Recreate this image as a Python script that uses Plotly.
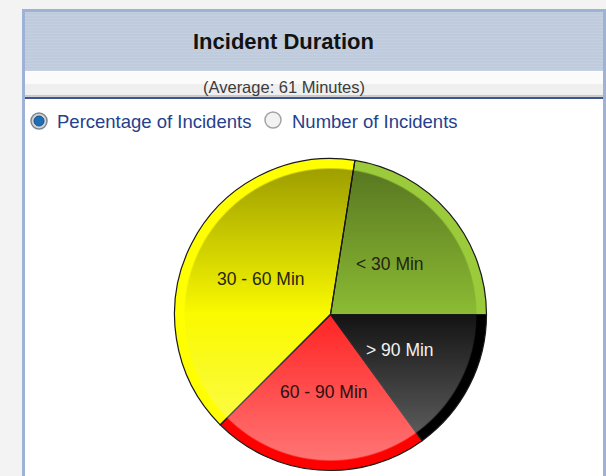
import base64
import math
import struct
import zlib

import plotly.graph_objects as go

# ---- data ----
categories = ["< 30 Min", "> 90 Min", "60 - 90 Min", "30 - 60 Min"]
percent_values = [22.5, 15.0, 22.5, 40.0]
title_text = "Incident Duration"
subtitle_text = "(Average: 61 Minutes)"
option_labels = ["Percentage of Incidents", "Number of Incidents"]

# ---- styles ----
rim_colors = ["#9bcb3a", "#000000", "#ff0000", "#ffff00"]
fill_colors = ["#8cbc34", "#141414", "#ff2424", "#fafa00"]
label_colors = ["#24240f", "#f2f2f2", "#2a1010", "#26260a"]
FONT = "Liberation Sans, Arial, sans-serif"
START_ANGLE = 9

W, H = 606, 476


def px(x):
    return x / W


def py(y):
    return 1 - y / H


cx, cy, R, r_in = 330.5, 314.5, 156, 146


def gloss_png(radius, strength=0.37):
    """Vertical shading overlay (dark top, light bottom) clipped to a circle."""
    size = radius * 2
    rows = []
    for j in range(size):
        row = bytearray([0])
        yy = j + 0.5 - radius
        t = yy / radius
        if t < 0:
            col, a = 0, -t * strength
        else:
            col, a = 255, t * strength
        for i in range(size):
            xx = i + 0.5 - radius
            d = math.hypot(xx, yy)
            cov = max(0.0, min(1.0, radius - d + 0.5))
            row += bytes([col, col, col, int(round(255 * a * cov))])
        rows.append(bytes(row))
    raw = b"".join(rows)

    def chunk(tag, data):
        c = struct.pack(">I", len(data)) + tag + data
        return c + struct.pack(">I", zlib.crc32(tag + data) & 0xFFFFFFFF)

    png = b"\x89PNG\r\n\x1a\n"
    png += chunk(b"IHDR", struct.pack(">IIBBBBB", size, size, 8, 6, 0, 0, 0))
    png += chunk(b"IDAT", zlib.compress(raw, 9))
    png += chunk(b"IEND", b"")
    return "data:image/png;base64," + base64.b64encode(png).decode()


outer_domain = dict(x=[px(cx - R), px(cx + R)], y=[py(cy + R), py(cy - R)])
inner_domain = dict(x=[px(cx - r_in), px(cx + r_in)], y=[py(cy + r_in), py(cy - r_in)])

fig = go.Figure()
# outer rim
fig.add_trace(go.Pie(
    labels=categories, values=percent_values, sort=False,
    direction="clockwise", rotation=START_ANGLE,
    marker=dict(colors=rim_colors, line=dict(width=0)),
    textinfo="none", hoverinfo="label+percent", showlegend=False,
    domain=outer_domain,
))
# inner body
fig.add_trace(go.Pie(
    labels=categories, values=percent_values, sort=False,
    direction="clockwise", rotation=START_ANGLE,
    marker=dict(colors=fill_colors, line=dict(width=0)),
    textinfo="none", hoverinfo="label+percent", showlegend=False,
    domain=inner_domain,
))
# outlines
fig.add_trace(go.Pie(
    labels=categories, values=percent_values, sort=False,
    direction="clockwise", rotation=START_ANGLE,
    marker=dict(colors=["rgba(0,0,0,0)"] * len(categories),
                line=dict(color="#1a1a1a", width=1.2)),
    textinfo="none", hoverinfo="skip", showlegend=False,
    domain=outer_domain,
))

shapes = []
# panel
shapes.append(dict(type="rect", xref="paper", yref="paper", layer="below",
                   x0=px(23.5), x1=px(604.5), y0=py(500), y1=py(10.5),
                   fillcolor="#ffffff", line=dict(color="#9db2d4", width=3)))
# header band
shapes.append(dict(type="rect", xref="paper", yref="paper", layer="below",
                   x0=px(25), x1=px(603), y0=py(71), y1=py(12),
                   fillcolor="#c4d0e0", line=dict(width=0)))
for yy in range(14, 70, 3):
    shapes.append(dict(type="line", xref="paper", yref="paper", layer="below",
                       x0=px(25), x1=px(603), y0=py(yy), y1=py(yy),
                       line=dict(color="#bac7d9", width=1)))
# subtitle band
shapes.append(dict(type="rect", xref="paper", yref="paper", layer="below",
                   x0=px(25), x1=px(603), y0=py(84), y1=py(72),
                   fillcolor="#fbfbfb", line=dict(width=0)))
shapes.append(dict(type="rect", xref="paper", yref="paper", layer="below",
                   x0=px(25), x1=px(603), y0=py(96), y1=py(84),
                   fillcolor="#efefef", line=dict(width=0)))
shapes.append(dict(type="line", xref="paper", yref="paper", layer="below",
                   x0=px(25), x1=px(603), y0=py(96), y1=py(96),
                   line=dict(color="#a0a0a0", width=1)))
shapes.append(dict(type="line", xref="paper", yref="paper", layer="below",
                   x0=px(25), x1=px(603), y0=py(98), y1=py(98),
                   line=dict(color="#3c5590", width=2)))
# radio buttons
shapes.append(dict(type="circle", xref="paper", yref="paper", layer="below",
                   x0=px(31), x1=px(47), y0=py(129), y1=py(113),
                   fillcolor="#d0d4d8", line=dict(color="#7f8790", width=1.5)))
shapes.append(dict(type="circle", xref="paper", yref="paper", layer="below",
                   x0=px(34), x1=px(44), y0=py(126), y1=py(116),
                   fillcolor="#1d6fb5", line=dict(color="#14508a", width=1)))
shapes.append(dict(type="circle", xref="paper", yref="paper", layer="below",
                   x0=px(265), x1=px(281), y0=py(128), y1=py(112),
                   fillcolor="#f2f2f2", line=dict(color="#a3a3a3", width=1.5)))

annotations = [
    dict(text=f"<b>{title_text}</b>", xref="paper", yref="paper", x=px(283), y=py(41),
         showarrow=False, font=dict(family=FONT, size=22, color="#121212"),
         xanchor="center", yanchor="middle"),
    dict(text=subtitle_text, xref="paper", yref="paper", x=px(284), y=py(87),
         showarrow=False, font=dict(family=FONT, size=16.5, color="#3c3c3c"),
         xanchor="center", yanchor="middle"),
    dict(text=option_labels[0], xref="paper", yref="paper", x=px(55), y=py(121),
         showarrow=False, font=dict(family=FONT, size=18.5, color="#26408c"),
         xanchor="left", yanchor="middle"),
    dict(text=option_labels[1], xref="paper", yref="paper", x=px(290), y=py(121),
         showarrow=False, font=dict(family=FONT, size=18.5, color="#26408c"),
         xanchor="left", yanchor="middle"),
]

# slice labels placed at half radius on each slice's bisector (derived from the data)
total = sum(percent_values)
cum = 0.0
for lab, v, col in zip(categories, percent_values, label_colors):
    mid = math.radians(START_ANGLE + 360.0 * (cum + v / 2) / total)
    cum += v
    lx = cx + 0.5 * R * math.sin(mid)
    ly = cy - 0.5 * R * math.cos(mid)
    annotations.append(dict(text=lab, xref="paper", yref="paper", x=px(lx), y=py(ly),
                            showarrow=False, xanchor="center", yanchor="middle",
                            font=dict(family=FONT, size=17.5, color=col)))

images = [dict(source=gloss_png(r_in), xref="paper", yref="paper",
               x=px(cx - r_in), y=py(cy - r_in), sizex=2 * r_in / W, sizey=2 * r_in / H,
               xanchor="left", yanchor="top", sizing="stretch", layer="above")]

fig.update_layout(
    width=W, height=H, margin=dict(l=0, r=0, t=0, b=0),
    paper_bgcolor="#f3f3f3", plot_bgcolor="#f3f3f3",
    shapes=shapes, annotations=annotations, images=images,
)

fig.write_html("out.html", config={"displayModeBar": False},
               post_script="document.body.style.margin='0';document.body.style.background='#f3f3f3';")
